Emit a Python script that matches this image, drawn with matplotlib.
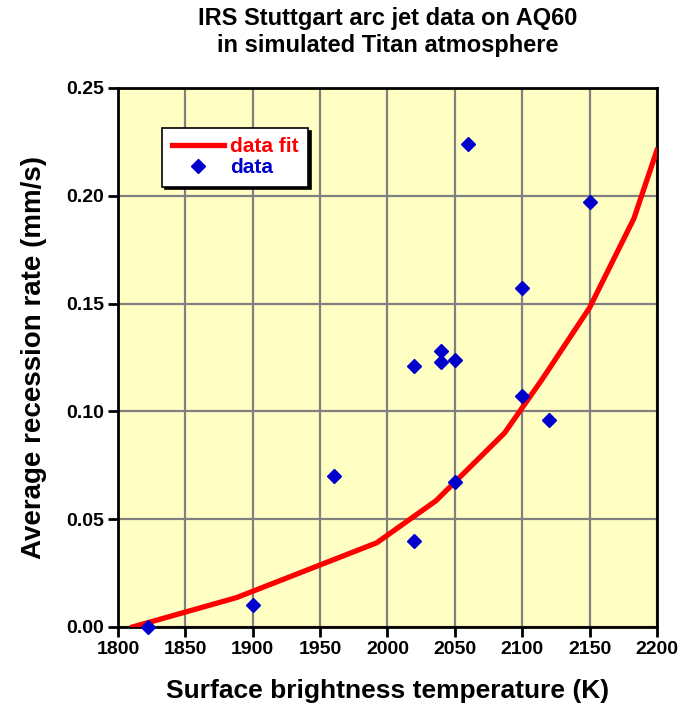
import numpy as np
import matplotlib.pyplot as plt

plt.rcParams['font.family'] = ['Liberation Sans', 'DejaVu Sans']
plt.rcParams['font.weight'] = 'bold'

# measured data points
temp = [1822, 1900, 1960, 2020, 2020, 2040, 2040, 2050, 2050, 2060, 2100, 2100, 2120, 2150]
rate = [0.000, 0.010, 0.070, 0.040, 0.121, 0.128, 0.123, 0.124, 0.067, 0.224, 0.157, 0.107, 0.096, 0.197]

# data fit (polyline)
fit_temp = [1811, 1888, 1992, 2036, 2087, 2115, 2150, 2183, 2200]
fit_rate = [0.000, 0.0136, 0.039, 0.0585, 0.090, 0.115, 0.148, 0.1895, 0.221]

xticks = np.arange(1800, 2201, 50)
yticks = np.arange(0, 0.2501, 0.05)

fig = plt.figure(figsize=(6.8, 7.06), dpi=100)
ax = fig.add_axes([0.1735, 0.112, 0.7925, 0.7635])
ax.set_facecolor('#FFFFC4')

ax.plot(fit_temp, fit_rate, color='#FF0000', lw=3.8, label='data fit', zorder=3)
ax.plot(temp, rate, 'D', color='#0000CC', ms=7.5, label='data', zorder=4, clip_on=False)

ax.set_xlim(1800, 2200)
ax.set_ylim(0, 0.25)
ax.set_xticks(xticks)
ax.set_yticks(yticks)
ax.set_yticklabels(['%.2f' % v for v in yticks])
ax.grid(True, color='#808080', lw=1.6)
ax.set_axisbelow(True)
for sp in ax.spines.values():
    sp.set_linewidth(2)
ax.tick_params(direction='out', length=7, width=2, labelsize=14, pad=3)

ax.set_xlabel('Surface brightness temperature (K)', fontsize=19, fontweight='bold', labelpad=15)
ax.set_ylabel('Average recession rate (mm/s)', fontsize=20, fontweight='bold', labelpad=14)
ax.set_title('IRS Stuttgart arc jet data on AQ60\nin simulated Titan atmosphere',
             fontsize=17, fontweight='bold', pad=26, linespacing=1.2)

leg = ax.legend(loc='upper left', bbox_to_anchor=(0.082, 0.926), fontsize=15,
                frameon=True, fancybox=False, shadow={'color': 'black', 'alpha': 1},
                edgecolor='black', facecolor='white', framealpha=1,
                handlelength=2.5, handletextpad=0.3, borderpad=0.45,
                labelspacing=0.1, borderaxespad=0)
leg.get_frame().set_linewidth(1.2)
for txt, c in zip(leg.get_texts(), ['#FF0000', '#0000CC']):
    txt.set_color(c)

fig.savefig('out.png', dpi=100)
